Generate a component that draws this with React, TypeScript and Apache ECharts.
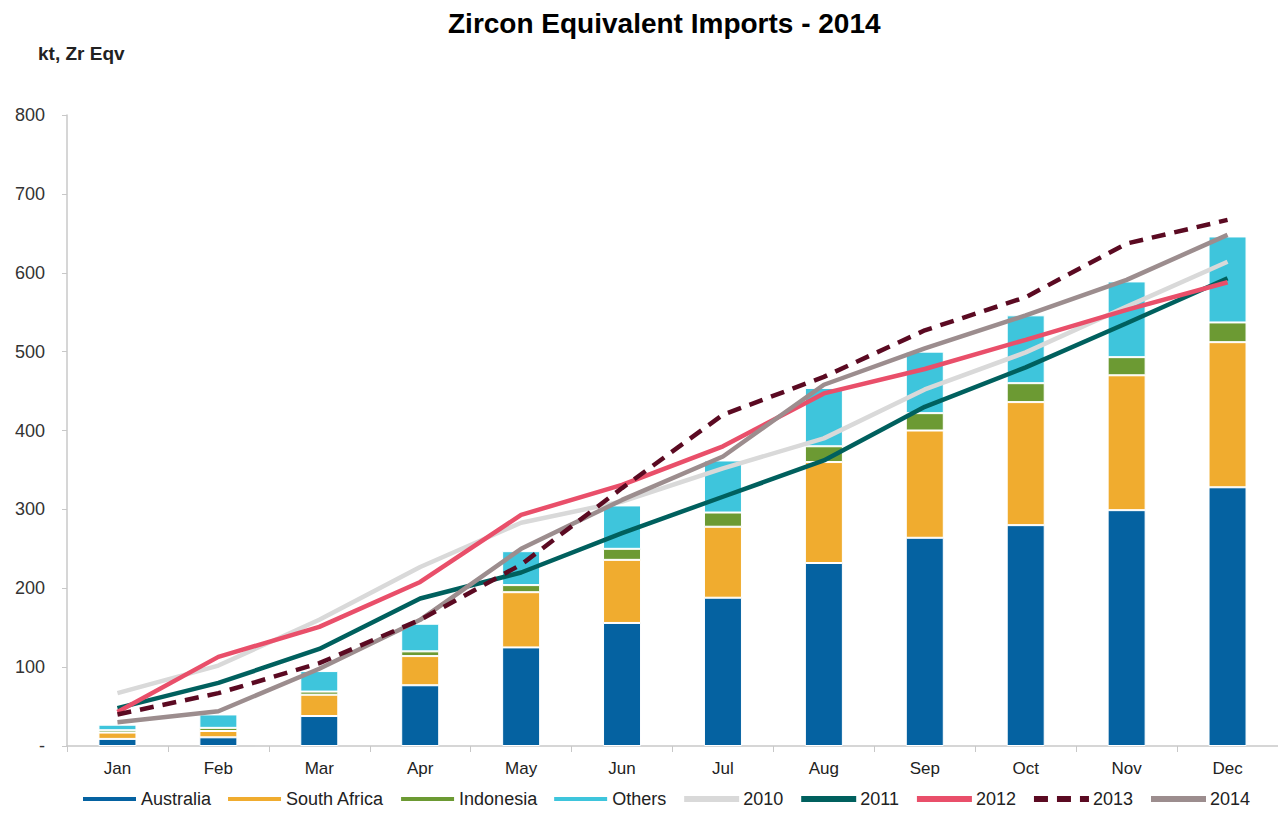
import React, { useEffect, useRef } from "react";
import * as echarts from "echarts";

const months = ["Jan", "Feb", "Mar", "Apr", "May", "Jun", "Jul", "Aug", "Sep", "Oct", "Nov", "Dec"];
const australia = [9, 11, 38, 77, 125, 156, 188, 232, 264, 280, 299, 328];
const southAfrica = [8, 8, 27, 37, 70, 80, 90, 128, 136, 156, 171, 184];
const indonesia = [3, 4, 4, 6, 9, 14, 18, 20, 22, 24, 23, 25];
const others = [7, 17, 26, 35, 43, 55, 66, 74, 78, 86, 96, 109];
const y2010 = [67, 102, 160, 227, 283, 310, 352, 390, 452, 499, 557, 614];
const y2011 = [48, 80, 123, 187, 220, 270, 316, 362, 430, 480, 536, 593];
const y2012 = [43, 113, 151, 208, 293, 331, 380, 447, 478, 515, 553, 588];
const y2013 = [40, 67, 105, 160, 230, 327, 420, 468, 527, 569, 637, 667];
const y2014 = [30, 44, 98, 160, 250, 312, 367, 458, 504, 546, 591, 648];

const FONT = "Liberation Sans, Arial, sans-serif";

export default function App() {
  const ref = useRef<HTMLDivElement>(null);
  useEffect(() => {
    if (!ref.current) return;
    const chart = echarts.init(ref.current, null, { renderer: "svg" });
    const bar = (name: string, data: number[], color: string) => ({
      name,
      type: "bar",
      stack: "imports",
      data,
      barWidth: 38,
      itemStyle: { color, borderColor: "#ffffff", borderWidth: 1 },
    });
    const line = (name: string, data: number[], color: string, dashed = false, z = 3) => ({
      name,
      type: "line",
      data,
      showSymbol: false,
      symbol: "none",
      z,
      lineStyle: {
        color,
        width: 4.5,
        type: dashed ? [14, 9] : "solid",
        cap: "butt",
      },
      itemStyle: { color },
    });
    const lineLegend = (name: string) => ({ name, itemStyle: { opacity: 0 } });
    chart.setOption({
      animation: false,
      backgroundColor: "#ffffff",
      textStyle: { fontFamily: FONT },
      title: {
        text: "Zircon Equivalent Imports - 2014",
        left: 443,
        top: 4,
        textStyle: { fontFamily: FONT, fontSize: 28, fontWeight: "bold", color: "#000" },
      },
      graphic: [
        {
          type: "text",
          left: 38,
          top: 44,
          style: { text: "kt, Zr Eqv", font: "bold 19px " + FONT, fill: "#222" },
        },
      ],
      legend: {
        left: 76,
        top: 785,
        itemWidth: 55,
        itemHeight: 6,
        itemGap: 15,
        lineStyle: { width: 6 },
        textStyle: { fontFamily: FONT, fontSize: 18, color: "#222", padding: [0, 0, 0, -1] },
        data: [
          { name: "Australia", icon: "rect" },
          { name: "South Africa", icon: "rect" },
          { name: "Indonesia", icon: "rect" },
          { name: "Others", icon: "rect" },
          lineLegend("2010"),
          lineLegend("2011"),
          lineLegend("2012"),
          lineLegend("2013"),
          lineLegend("2014"),
        ],
      },
      grid: { left: 67, right: -8, top: 115, bottom: 67 },
      xAxis: {
        type: "category",
        data: months,
        axisLine: { lineStyle: { color: "#c8c8c8", width: 1.5 } },
        axisTick: { show: true, length: 6, lineStyle: { color: "#c8c8c8" } },
        axisLabel: { fontFamily: FONT, fontSize: 17, color: "#222", margin: 14 },
      },
      yAxis: {
        type: "value",
        min: 0,
        max: 800,
        interval: 100,
        splitLine: { show: false },
        axisLine: { show: true, lineStyle: { color: "#c8c8c8", width: 1.5 } },
        axisTick: { show: true, length: 5, lineStyle: { color: "#c8c8c8" } },
        axisLabel: {
          fontFamily: FONT,
          fontSize: 18,
          color: "#333",
          margin: 22,
          formatter: (v: number) => (v === 0 ? "-" : String(v)),
        },
      },
      series: [
        bar("Australia", australia, "#0562a1"),
        bar("South Africa", southAfrica, "#f0ac2f"),
        bar("Indonesia", indonesia, "#6c9a33"),
        bar("Others", others, "#3ec5dc"),
        line("2010", y2010, "#d9d9d9", false, 3),
        line("2011", y2011, "#00605e", false, 4),
        line("2012", y2012, "#e94f6a", false, 5),
        line("2013", y2013, "#5b0a22", true, 7),
        line("2014", y2014, "#9c8d8e", false, 6),
      ],
    });
    return () => chart.dispose();
  }, []);
  return (
    <div
      ref={ref}
      style={{ position: "absolute", left: 0, top: 0, width: 1278, height: 813 }}
    />
  );
}
